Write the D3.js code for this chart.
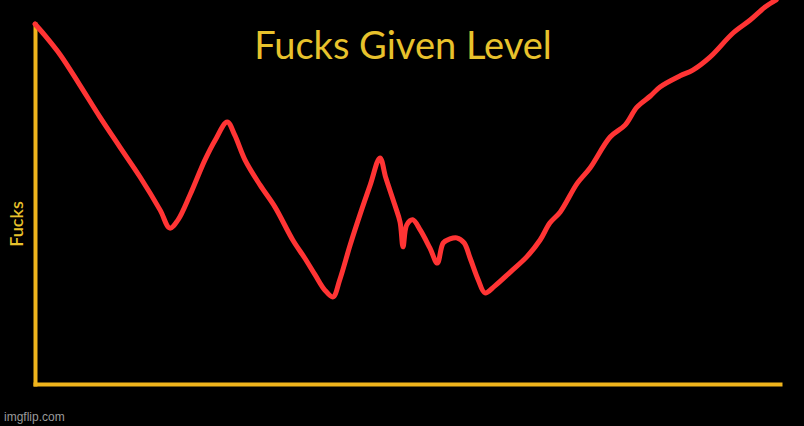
<!DOCTYPE html>
<html><head><meta charset="utf-8">
<script src="https://cdn.jsdelivr.net/npm/d3@7"></script>
<style>
html,body{margin:0;padding:0;background:#000;overflow:hidden;}
svg{display:block;}
</style></head>
<body>
<script>
// Data: time (0-100) vs fucks given (0-100, extends past the top)
const timeValues = [0,1.3,3.4,6.0,8.7,11.4,14.1,16.8,18.1,19.2,20.8,22.8,24.2,25.8,26.8,28.2,30.2,32.2,34.6,36.2,37.6,38.9,40.0,40.9,42.3,43.6,45.0,46.3,47.1,48.3,49.0,49.4,49.9,50.7,51.7,53.0,54.0,54.8,55.7,56.6,57.6,58.4,59.5,60.4,61.7,63.8,66.0,67.8,69.1,70.5,72.8,74.5,77.2,79.2,80.8,82.6,83.9,86.6,88.3,90.6,93.7,96.0,98.0,99.5];
const fucksValues = [100,96.9,91.4,83.1,74.2,65.8,57.5,48.3,43.3,45.6,52.5,62.2,67.8,72.8,69.2,62.2,55.3,49.2,40.0,35.0,30.3,26.1,24.2,28.9,38.6,46.9,55.3,62.8,57.2,49.7,45.0,38.1,44.2,45.6,42.8,37.8,33.6,39.2,40.3,40.6,39.2,35.0,28.9,25.3,27.2,31.1,35.3,40.0,44.7,47.8,55.8,60.0,68.6,71.9,76.9,80.0,82.5,85.6,87.2,90.8,97.5,101.1,104.7,106.7];
const titleText = "Fucks Given Level";
const yLabel = "Fucks";
const watermark = "imgflip.com";

const W = 804, H = 426;
const svg = d3.select("body").append("svg").attr("width", W).attr("height", H);
svg.append("rect").attr("width", W).attr("height", H).attr("fill", "#000");

const x = d3.scaleLinear().domain([0, 100]).range([35, 780]);
const y = d3.scaleLinear().domain([0, 100]).range([384, 24]);

const axisColor = "#f0b41c";
const gx = svg.append("g").attr("transform", `translate(0,${y(0)})`)
  .call(d3.axisBottom(x).ticks(0).tickSizeOuter(0));
const gy = svg.append("g").attr("transform", `translate(${x(0)},0)`)
  .call(d3.axisLeft(y).ticks(0).tickSizeOuter(0));
[gx, gy].forEach(g => {
  g.select(".domain").attr("stroke", axisColor).attr("stroke-width", 4).attr("stroke-linecap", "square");
  g.selectAll(".tick").remove();
});

svg.append("text")
  .attr("x", 403).attr("y", 59)
  .attr("text-anchor", "middle")
  .attr("font-family", "Lato, 'Open Sans', sans-serif")
  .attr("font-size", 38)
  .attr("fill", "#e8c22c")
  .text(titleText);

svg.append("text")
  .attr("transform", "translate(23,224) rotate(-90)")
  .attr("text-anchor", "middle")
  .attr("font-family", "Lato, 'Open Sans', sans-serif")
  .attr("font-size", 18)
  .attr("font-weight", 600)
  .attr("fill", "#e8c22c")
  .text(yLabel);

const pts = timeValues.map((t, i) => [t, fucksValues[i]]);
svg.append("path")
  .datum(pts)
  .attr("fill", "none")
  .attr("stroke", "#ff3434")
  .attr("stroke-width", 5)
  .attr("stroke-linejoin", "round")
  .attr("stroke-linecap", "round")
  .attr("d", d3.line().x(d => x(d[0])).y(d => y(d[1])).curve(d3.curveCatmullRom.alpha(0.5)));

svg.append("text")
  .attr("x", 4).attr("y", 421)
  .attr("font-family", "'Liberation Sans', Arial, sans-serif")
  .attr("font-size", 12)
  .attr("fill", "#9a9a9a")
  .text(watermark);
</script>
</body></html>
